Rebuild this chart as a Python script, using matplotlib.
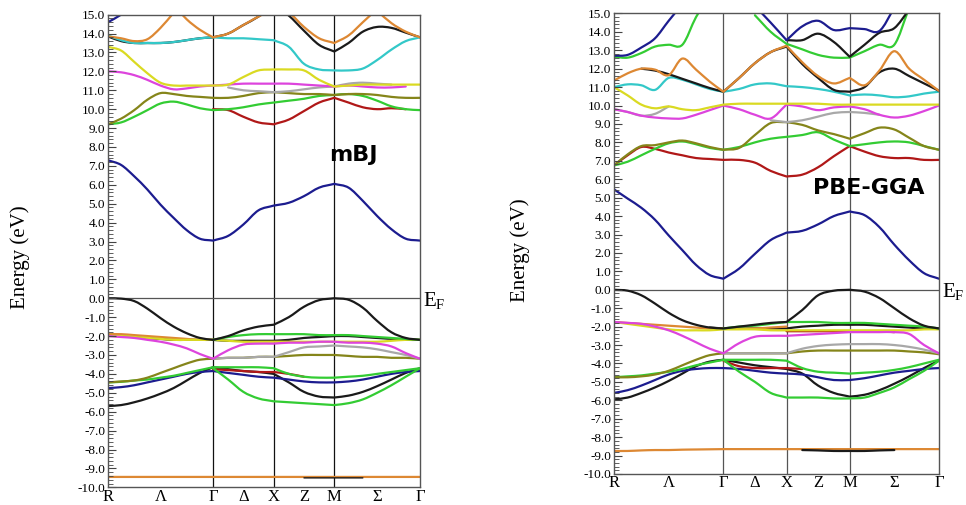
import numpy as np
import matplotlib.pyplot as plt
import matplotlib.transforms as mtransforms
from matplotlib.path import Path
from matplotlib.patches import PathPatch
from matplotlib.ticker import MultipleLocator, FormatStrFormatter

plt.rcParams['font.family'] = 'Liberation Serif'
plt.rcParams['axes.unicode_minus'] = False

nan = np.nan

# path R - Gamma - X - M - Gamma (simple cubic), sampled per segment
seg_len = [np.sqrt(3) / 2, 0.5, 0.5, np.sqrt(2) / 2]
seg_pts = [8, 4, 4, 6]
k_labels = ['R', 'Λ', 'Γ', 'Δ', 'X', 'Z', 'M', 'Σ', 'Γ']

# ---------------- mBJ (left) ----------------
# 23 samples: R..G (9), G-X (4), X-M (4), M-G (6)
mbj_core_orange = [-9.45, -9.45, -9.45, -9.45, -9.45, -9.45, -9.45, -9.45, -9.45, -9.45, -9.45, -9.45, -9.45, -9.45, -9.45, -9.45, -9.45, -9.45, -9.45, -9.45, -9.45, -9.45, -9.45]
mbj_core_black = [nan, nan, nan, nan, nan, nan, nan, nan, nan, nan, nan, nan, nan, nan, -9.5, -9.5, -9.5, -9.5, -9.5, nan, nan, nan, nan]
mbj_v_black1 = [-5.7, -5.65, -5.5, -5.3, -5.05, -4.75, -4.35, -3.95, -3.65, -3.75, -3.85, -3.9, -4.0, -4.45, -4.95, -5.2, -5.25, -5.15, -4.95, -4.65, -4.3, -3.95, -3.7]
mbj_v_green2 = [nan, nan, nan, nan, nan, nan, nan, nan, -3.7, -4.3, -4.95, -5.3, -5.45, -5.5, -5.55, -5.6, -5.65, -5.55, -5.35, -5.0, -4.6, -4.15, -3.7]
mbj_v_blue = [-4.75, -4.7, -4.6, -4.45, -4.3, -4.15, -4.0, -3.9, -3.85, -3.95, -4.05, -4.15, -4.2, -4.3, -4.4, -4.45, -4.45, -4.4, -4.3, -4.15, -4.0, -3.9, -3.85]
mbj_v_red = [nan, nan, nan, nan, nan, nan, nan, nan, -3.75, -3.8, -3.85, -3.9, -3.9, -4.0, -4.15, nan, nan, nan, nan, nan, nan, nan, nan]
mbj_v_green1 = [-4.45, -4.42, -4.35, -4.3, -4.2, -4.1, -3.95, -3.8, -3.65, -3.65, -3.65, -3.65, -3.7, -4.0, -4.15, -4.2, -4.2, -4.15, -4.1, -4.0, -3.9, -3.8, -3.7]
mbj_v_olive = [-4.45, -4.4, -4.35, -4.2, -3.95, -3.7, -3.45, -3.25, -3.2, -3.15, -3.15, -3.1, -3.1, -3.05, -3.0, -3.0, -3.0, -3.05, -3.1, -3.1, -3.15, -3.15, -3.2]
mbj_v_gray = [nan, nan, nan, nan, nan, nan, nan, nan, -3.2, -3.15, -3.15, -3.1, -3.1, -2.85, -2.6, -2.55, -2.5, -2.55, -2.6, -2.7, -2.85, -3.0, -3.2]
mbj_v_magenta = [-2.0, -2.05, -2.1, -2.2, -2.3, -2.45, -2.65, -2.95, -3.2, -2.75, -2.45, -2.4, -2.4, -2.35, -2.35, -2.3, -2.3, -2.35, -2.35, -2.4, -2.55, -2.9, -3.2]
mbj_v_black2 = [-1.95, -2.0, -2.05, -2.1, -2.15, -2.2, -2.2, -2.2, -2.2, -2.25, -2.25, -2.25, -2.25, -2.2, -2.1, -2.05, -2.0, -2.0, -2.05, -2.1, -2.15, -2.2, -2.2]
mbj_v_yellow = [-2.0, -2.0, -2.05, -2.1, -2.15, -2.2, -2.2, -2.2, -2.2, -2.25, -2.3, -2.3, -2.3, -2.3, -2.3, -2.3, -2.3, -2.3, -2.3, -2.3, -2.25, -2.2, -2.2]
mbj_v_orange = [-1.9, -1.9, -1.95, -2.0, -2.05, -2.1, -2.15, -2.2, -2.2, nan, nan, nan, nan, nan, nan, nan, nan, nan, nan, nan, nan, nan, nan]
mbj_v_green3 = [nan, nan, nan, nan, nan, nan, nan, nan, -2.2, -2.05, -1.95, -1.9, -1.9, -1.9, -1.9, -1.95, -1.95, -1.95, -2.0, -2.05, -2.1, -2.15, -2.2]
mbj_v_black_top = [0.0, -0.02, -0.15, -0.55, -1.05, -1.5, -1.85, -2.1, -2.2, -2.0, -1.7, -1.5, -1.4, -1.0, -0.45, -0.1, 0.0, -0.08, -0.5, -1.2, -1.8, -2.1, -2.2]

mbj_c_blue = [7.3, 7.05, 6.45, 5.75, 4.95, 4.25, 3.6, 3.15, 3.05, 3.3, 3.9, 4.65, 4.9, 5.05, 5.4, 5.85, 6.05, 5.85, 5.15, 4.35, 3.65, 3.15, 3.05]
mbj_c_green = [9.2, 9.3, 9.6, 9.95, 10.3, 10.4, 10.25, 10.05, 9.95, 10.0, 10.1, 10.25, 10.35, 10.45, 10.55, 10.7, 10.75, 10.8, 10.7, 10.45, 10.15, 10.0, 9.95]
mbj_c_olive = [9.2, 9.5, 9.95, 10.5, 10.85, 10.8, 10.7, 10.65, 10.6, 10.6, 10.7, 10.85, 10.9, 10.85, 10.8, 10.8, 10.75, 10.8, 10.8, 10.75, 10.65, 10.6, 10.6]
mbj_c_red = [nan, nan, nan, nan, nan, nan, nan, nan, 10.0, 9.95, 9.6, 9.3, 9.2, 9.45, 9.9, 10.35, 10.6, 10.35, 10.1, 10.0, 10.05, 10.0, nan]
mbj_c_gray = [nan, nan, nan, nan, nan, nan, nan, nan, nan, 11.15, 11.0, 10.95, 10.9, 10.95, 11.05, 11.15, 11.2, 11.35, 11.4, 11.35, 11.3, nan, nan]
mbj_c_magenta = [12.0, 11.95, 11.8, 11.55, 11.25, 11.05, 11.1, 11.2, 11.25, 11.3, 11.35, 11.35, 11.35, 11.35, 11.3, 11.25, 11.2, 11.25, 11.2, 11.15, 11.15, 11.2, nan]
mbj_c_yellow = [13.3, 13.1, 12.5, 11.9, 11.4, 11.25, 11.25, 11.25, 11.25, 11.3, 11.7, 12.05, 12.1, 12.1, 12.05, 11.55, 11.2, 11.25, 11.3, 11.3, 11.3, 11.3, 11.3]
mbj_c_cyan = [13.9, 13.65, 13.5, 13.5, 13.5, 13.55, 13.65, 13.75, 13.8, 13.75, 13.75, 13.7, 13.65, 13.3, 12.4, 12.1, 12.05, 12.05, 12.15, 12.6, 13.15, 13.6, 13.8]
mbj_c_black = [13.85, 13.6, 13.5, 13.5, 13.5, 13.55, 13.65, 13.75, 13.8, 14.0, 14.45, 14.9, 15.5, 14.95, 14.15, 13.4, 13.05, 13.5, 14.1, 14.35, 14.3, 14.05, 13.8]
mbj_c_orange1 = [13.85, 13.75, 13.6, 13.7, 14.3, 15.1, 15.9, nan, nan, nan, nan, nan, nan, nan, nan, nan, nan, nan, nan, nan, nan, nan, nan]
mbj_c_orange2 = [nan, nan, nan, nan, nan, 15.5, 14.75, 14.2, 13.8, 14.0, 14.45, 14.9, 15.3, 15.1, 14.35, 13.75, 13.5, 13.9, 14.6, 15.3, nan, nan, nan]
mbj_c_orange3 = [nan, nan, nan, nan, nan, nan, nan, nan, nan, nan, nan, nan, nan, nan, nan, nan, nan, nan, nan, 15.2, 14.55, 14.1, 13.8]
mbj_c_navy = [14.6, 15.0, 15.5, nan, nan, nan, nan, nan, nan, nan, nan, nan, nan, nan, nan, nan, nan, nan, nan, nan, nan, nan, nan]

# ---------------- PBE-GGA (right) ----------------
pbe_core_orange = [-8.75, -8.75, -8.72, -8.7, -8.7, -8.68, -8.67, -8.66, -8.65, -8.65, -8.65, -8.65, -8.65, -8.65, -8.65, -8.65, -8.65, -8.65, -8.65, -8.65, -8.65, -8.65, -8.65]
pbe_core_black = [nan, nan, nan, nan, nan, nan, nan, nan, nan, nan, nan, nan, nan, -8.7, -8.72, -8.75, -8.75, -8.75, -8.72, -8.7, nan, nan, nan]
pbe_v_black1 = [-5.95, -5.85, -5.6, -5.3, -4.95, -4.55, -4.15, -3.9, -3.8, -3.95, -4.1, -4.2, -4.3, -4.55, -5.2, -5.6, -5.8, -5.7, -5.45, -5.1, -4.7, -4.25, -3.85]
pbe_v_green2 = [nan, nan, nan, nan, nan, nan, nan, nan, -3.8, -4.45, -5.0, -5.6, -5.85, -5.85, -5.85, -5.9, -5.9, -5.85, -5.6, -5.3, -4.85, -4.4, -3.85]
pbe_v_blue = [-5.6, -5.45, -5.2, -4.9, -4.6, -4.4, -4.3, -4.25, -4.25, -4.3, -4.4, -4.5, -4.55, -4.6, -4.75, -4.9, -4.9, -4.8, -4.65, -4.5, -4.4, -4.3, -4.25]
pbe_v_red = [nan, nan, nan, nan, nan, nan, nan, nan, -3.85, -4.15, -4.25, -4.25, -4.25, -4.3, nan, nan, nan, nan, nan, nan, nan, nan, nan]
pbe_v_green1 = [-4.75, -4.7, -4.65, -4.55, -4.45, -4.3, -4.1, -3.95, -3.8, -3.8, -3.8, -3.8, -3.85, -4.25, -4.45, -4.5, -4.55, -4.5, -4.45, -4.35, -4.2, -4.0, -3.8]
pbe_v_olive = [-4.75, -4.75, -4.7, -4.6, -4.4, -4.1, -3.8, -3.55, -3.45, -3.45, -3.45, -3.45, -3.45, -3.35, -3.3, -3.3, -3.3, -3.3, -3.3, -3.3, -3.35, -3.4, -3.5]
pbe_v_gray = [nan, nan, nan, nan, nan, nan, nan, nan, -3.45, -3.45, -3.45, -3.45, -3.45, -3.2, -3.05, -2.98, -2.95, -2.95, -2.95, -3.0, -3.1, -3.25, -3.45]
pbe_v_red2 = [nan, nan, nan, nan, nan, nan, nan, nan, nan, nan, nan, nan, -2.25, -2.25, -2.25, -2.25, -2.25, -2.25, -2.25, -2.3, nan, nan, nan]
pbe_v_magenta = [-1.75, -1.8, -1.85, -2.0, -2.2, -2.5, -2.85, -3.2, -3.45, -2.9, -2.55, -2.5, -2.5, -2.45, -2.4, -2.35, -2.3, -2.3, -2.3, -2.3, -2.4, -3.0, -3.45]
pbe_v_yellow = [-1.75, -1.85, -1.95, -2.05, -2.15, -2.2, -2.2, -2.2, -2.15, -2.15, -2.15, -2.2, -2.2, -2.2, -2.2, -2.2, -2.2, -2.2, -2.2, -2.2, -2.2, -2.15, -2.15]
pbe_v_orange = [-1.75, -1.8, -1.85, -1.9, -1.95, -2.0, -2.05, -2.1, -2.1, -2.1, -2.1, -2.05, -2.0, nan, nan, nan, nan, nan, nan, nan, nan, nan, nan]
pbe_v_black2 = [nan, nan, nan, nan, nan, nan, nan, -2.05, -2.1, -2.1, -2.1, -2.1, -2.1, -2.0, -1.95, -1.9, -1.9, -1.9, -1.95, -2.0, -2.05, -2.1, -2.1]
pbe_v_green3 = [nan, nan, nan, nan, nan, nan, nan, nan, -2.1, -2.0, -1.95, -1.85, -1.75, -1.75, -1.75, -1.8, -1.8, -1.8, -1.85, -1.9, -1.95, -2.0, -2.1]
pbe_v_black_top = [0.0, -0.05, -0.3, -0.75, -1.25, -1.65, -1.9, -2.05, -2.1, -2.0, -1.9, -1.8, -1.75, -1.1, -0.3, -0.05, 0.0, -0.1, -0.45, -1.0, -1.55, -1.95, -2.1]

pbe_c_blue = [5.45, 4.95, 4.45, 3.8, 2.95, 2.15, 1.35, 0.8, 0.6, 1.15, 1.95, 2.7, 3.1, 3.2, 3.55, 4.0, 4.25, 4.05, 3.4, 2.45, 1.6, 0.9, 0.6]
pbe_c_red = [6.75, 7.3, 7.75, 7.65, 7.45, 7.3, 7.15, 7.1, 7.05, 7.05, 6.9, 6.45, 6.15, 6.25, 6.65, 7.25, 7.8, 7.5, 7.25, 7.15, 7.15, 7.05, 7.05]
pbe_c_green = [6.75, 6.95, 7.3, 7.65, 7.95, 8.05, 7.9, 7.7, 7.6, 7.75, 8.0, 8.2, 8.3, 8.4, 8.55, 8.15, 7.8, 7.9, 8.0, 8.05, 8.0, 7.8, 7.6]
pbe_c_olive = [6.75, 7.35, 7.8, 7.85, 8.0, 8.1, 7.95, 7.75, 7.6, 7.7, 8.4, 9.05, 9.1, 8.95, 8.65, 8.45, 8.2, 8.5, 8.8, 8.7, 8.25, 7.8, 7.6]
pbe_c_magenta = [9.8, 9.65, 9.45, 9.35, 9.3, 9.3, 9.5, 9.75, 10.0, 9.8, 9.5, 9.3, 10.05, 9.95, 9.75, 9.9, 9.95, 9.8, 9.5, 9.35, 9.45, 9.7, 10.0]
pbe_c_gray = [9.8, 9.65, 9.45, 9.55, 9.95, nan, nan, nan, nan, nan, nan, 9.2, 9.1, 9.2, 9.4, 9.6, 9.65, 9.6, 9.5, nan, nan, nan, nan]
pbe_c_yellow = [11.0, 10.55, 10.05, 9.85, 9.95, 9.8, 9.75, 9.9, 10.05, 10.1, 10.1, 10.1, 10.1, 10.1, 10.1, 10.05, 10.05, 10.05, 10.05, 10.05, 10.05, 10.05, 10.05]
pbe_c_cyan = [11.0, 11.15, 11.1, 10.85, 11.5, 11.4, 11.15, 10.9, 10.75, 10.9, 11.15, 11.2, 11.05, 11.0, 10.9, 10.75, 10.55, 10.6, 10.55, 10.45, 10.5, 10.65, 10.75]
pbe_c_black1 = [nan, nan, 12.0, 11.9, 11.7, 11.45, 11.2, 10.95, 10.75, 11.5, 12.3, 12.9, 13.2, 12.25, 11.5, 10.85, 10.75, 11.0, 11.8, 12.0, 11.6, 11.2, 10.8]
pbe_c_orange = [11.35, 11.75, 12.0, 11.95, 11.65, 12.55, 11.95, 11.3, 10.75, 11.5, 12.3, 12.9, 13.25, 12.35, 11.6, 11.2, 11.5, 11.1, 11.9, 12.95, 12.0, 11.4, 10.8]
pbe_c_blue2 = [12.7, 12.75, 13.15, 13.65, 14.6, 15.5, nan, nan, nan, nan, 15.4, 14.5, 13.55, 14.3, 14.6, 14.1, 14.2, 14.15, 14.05, 15.3, nan, nan, nan]
pbe_c_black2 = [nan, nan, nan, nan, nan, nan, nan, nan, nan, nan, nan, nan, 13.55, 13.55, 13.9, 13.45, 12.65, 13.3, 13.95, 14.2, 15.2, nan, nan]
pbe_c_green2 = [12.65, 12.6, 12.85, 13.2, 13.3, 13.3, 14.8, 16.0, nan, nan, 14.9, 14.0, 13.35, 13.05, 12.75, 12.6, 12.6, 12.95, 13.3, 13.3, 15.3, nan, nan]

NAVY, GREEN, OLIVE, RED = '#1c1c8f', '#33cc33', '#85851a', '#b01818'
MAGENTA, GRAY, YELLOW, CYAN = '#dd44dd', '#a8a8a8', '#dada22', '#33c8c8'
ORANGE, BLACK = '#dd8833', '#1a1a1a'

mbj_bands = [
    (mbj_core_orange, ORANGE), (mbj_core_black, BLACK),
    (mbj_v_black1, BLACK), (mbj_v_blue, NAVY), (mbj_v_red, RED),
    (mbj_v_green1, GREEN), (mbj_v_green2, GREEN), (mbj_v_olive, OLIVE),
    (mbj_v_gray, GRAY), (mbj_v_black2, BLACK), (mbj_v_orange, ORANGE),
    (mbj_v_yellow, YELLOW), (mbj_v_magenta, MAGENTA), (mbj_v_green3, GREEN),
    (mbj_v_black_top, BLACK),
    (mbj_c_blue, NAVY), (mbj_c_red, RED), (mbj_c_green, GREEN), (mbj_c_olive, OLIVE),
    (mbj_c_gray, GRAY), (mbj_c_magenta, MAGENTA), (mbj_c_yellow, YELLOW),
    (mbj_c_black, BLACK), (mbj_c_cyan, CYAN), (mbj_c_orange1, ORANGE),
    (mbj_c_orange2, ORANGE), (mbj_c_orange3, ORANGE), (mbj_c_navy, NAVY),
]

pbe_bands = [
    (pbe_core_orange, ORANGE), (pbe_core_black, BLACK),
    (pbe_v_black1, BLACK), (pbe_v_blue, NAVY), (pbe_v_red, RED),
    (pbe_v_green1, GREEN), (pbe_v_green2, GREEN), (pbe_v_olive, OLIVE),
    (pbe_v_gray, GRAY), (pbe_v_red2, RED), (pbe_v_black2, BLACK),
    (pbe_v_orange, ORANGE), (pbe_v_yellow, YELLOW), (pbe_v_magenta, MAGENTA),
    (pbe_v_green3, GREEN), (pbe_v_black_top, BLACK),
    (pbe_c_blue, NAVY), (pbe_c_red, RED), (pbe_c_green, GREEN), (pbe_c_olive, OLIVE),
    (pbe_c_gray, GRAY), (pbe_c_magenta, MAGENTA), (pbe_c_yellow, YELLOW),
    (pbe_c_cyan, CYAN), (pbe_c_black1, BLACK), (pbe_c_orange, ORANGE),
    (pbe_c_green2, GREEN), (pbe_c_black2, BLACK), (pbe_c_blue2, NAVY),
]

# k grid and tick positions
nodes = np.concatenate([[0], np.cumsum(seg_len)])
k = [nodes[0]]
piece_seg = []
for i, n in enumerate(seg_pts):
    k.extend(np.linspace(nodes[i], nodes[i + 1], n + 1)[1:])
    piece_seg += [i] * n
k = np.array(k)
tick_pos = []
for i in range(len(seg_len)):
    tick_pos += [nodes[i], (nodes[i] + nodes[i + 1]) / 2]
tick_pos.append(nodes[-1])


def band_path(y):
    # smooth cubic (Hermite) pieces through the read values, kinks allowed at nodes
    y = np.asarray(y, dtype=float)
    ok = np.isfinite(y)

    def slope(i, p):
        s = piece_seg[p]
        left = i - 1 >= 0 and ok[i - 1] and piece_seg[i - 1] == s
        right = i + 1 < len(y) and ok[i + 1] and i < len(piece_seg) and piece_seg[i] == s
        if left and right:
            return (y[i + 1] - y[i - 1]) / (k[i + 1] - k[i - 1])
        if right:
            return (y[i + 1] - y[i]) / (k[i + 1] - k[i])
        if left:
            return (y[i] - y[i - 1]) / (k[i] - k[i - 1])
        return 0.0

    verts, codes = [], []
    pen = False
    for p in range(len(y) - 1):
        if not (ok[p] and ok[p + 1]):
            pen = False
            continue
        x0, x1, y0, y1 = k[p], k[p + 1], y[p], y[p + 1]
        h = x1 - x0
        m0, m1 = slope(p, p), slope(p + 1, p)
        if not pen:
            verts.append((x0, y0))
            codes.append(Path.MOVETO)
            pen = True
        verts += [(x0 + h / 3, y0 + m0 * h / 3), (x1 - h / 3, y1 - m1 * h / 3), (x1, y1)]
        codes += [Path.CURVE4] * 3
    return Path(verts, codes)


def draw_panel(ax, bands, name, name_y, line_col):
    for vals, col in bands:
        lw = 1.0 if vals is mbj_core_black else 1.6
        ax.add_patch(PathPatch(band_path(vals), fill=False, edgecolor=col, lw=lw,
                               capstyle='round', joinstyle='round'))
    for xv in nodes[1:-1]:
        ax.axvline(xv, color=line_col, lw=0.9, zorder=0)
    ax.axhline(0, color='#555555', lw=0.9, zorder=0)
    ax.set_xlim(nodes[0], nodes[-1])
    ax.set_ylim(-10, 15)
    ax.set_xticks(tick_pos)
    ax.set_xticklabels(k_labels, fontsize=12)
    ax.tick_params(axis='x', length=0, pad=1)
    ax.yaxis.set_major_locator(MultipleLocator(1.0))
    ax.yaxis.set_minor_locator(MultipleLocator(0.2))
    ax.yaxis.set_major_formatter(FormatStrFormatter('%.1f'))
    ax.tick_params(axis='y', which='both', direction='in', labelsize=9.5, pad=2, color='#444444')
    ax.tick_params(axis='y', which='major', length=6)
    ax.tick_params(axis='y', which='minor', length=3.5)
    for s in ax.spines.values():
        s.set_color('#555555')
        s.set_linewidth(1.0)
    trans = mtransforms.blended_transform_factory(ax.transAxes, ax.transData)
    ax.text(1.01, -0.15, r'E$_\mathregular{F}$', transform=trans, fontsize=15, va='center', ha='left')
    ax.text(2.02, name_y, name, fontsize=16, fontweight='bold', family='DejaVu Sans',
            ha='center', va='center')


fig = plt.figure(figsize=(9.66, 5.05), dpi=100)
ax1 = fig.add_axes([0.1118, 0.035, 0.323, 0.936])
ax2 = fig.add_axes([0.6356, 0.0614, 0.3364, 0.912])

draw_panel(ax1, mbj_bands, 'mBJ', 7.6, '#111111')
draw_panel(ax2, pbe_bands, 'PBE-GGA', 5.5, '#555555')

fig.text(0.021, 0.49, 'Energy (eV)', rotation=90, fontsize=15, ha='center', va='center')
fig.text(0.538, 0.505, 'Energy (eV)', rotation=90, fontsize=15, ha='center', va='center')

fig.savefig('out.png', dpi=100)
